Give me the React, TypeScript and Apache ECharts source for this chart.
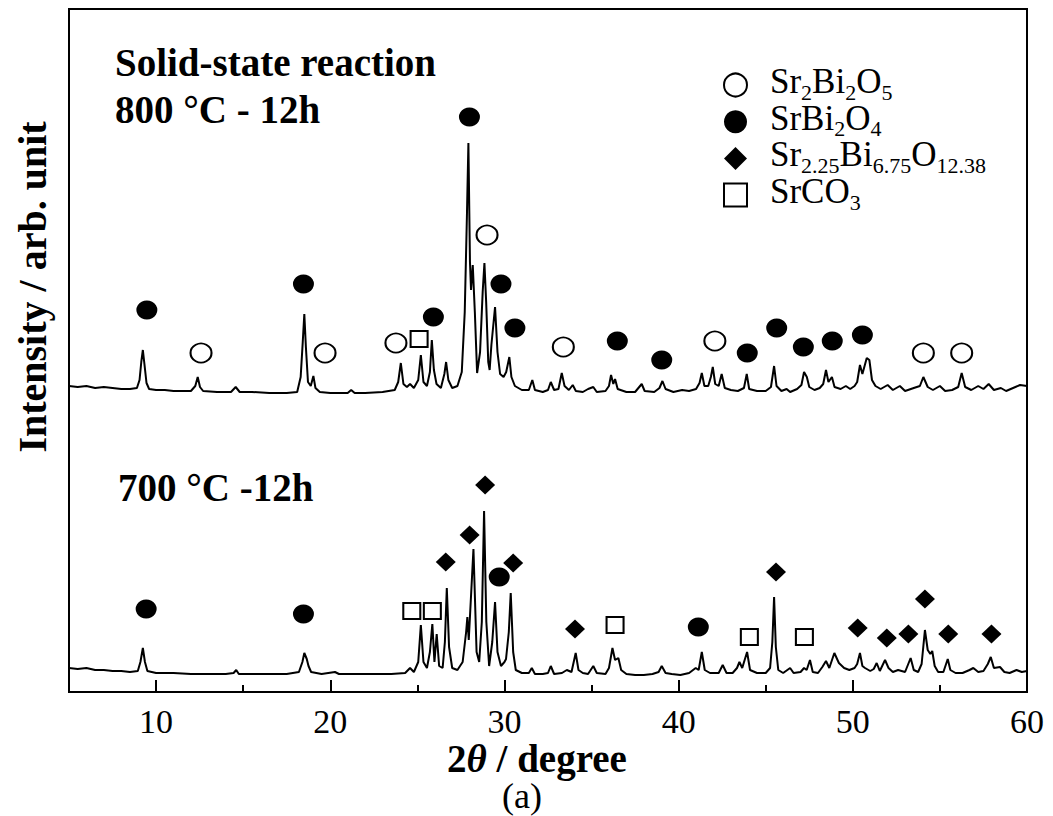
import React, { useEffect, useRef } from 'react';
import * as echarts from 'echarts';

const FONT = "'Liberation Serif', 'Times New Roman', serif";

const xMajorTicks = [10, 20, 30, 40, 50];
const xMinorTicks = [15, 25, 35, 45, 55];
const xTickLabels = [10, 20, 30, 40, 50, 60];

// 800 °C - 12h pattern: [2θ, intensity (arb.)]
const pattern800: number[][] = [
  [5.0, 306], [5.5, 305], [6.0, 306], [6.5, 304], [7.0, 305], [7.5, 304], [8.0, 303], [8.5, 303], [8.9, 304],
  [9.05, 312], [9.15, 330], [9.24, 342], [9.33, 328], [9.45, 309], [9.6, 303], [10.0, 302], [10.5, 302],
  [11.0, 301], [11.5, 301], [12.0, 301], [12.25, 306], [12.39, 315], [12.52, 305], [12.7, 301], [13.5, 300],
  [14.3, 300], [14.57, 305], [14.8, 300], [15.5, 300], [16.5, 299], [17.5, 299], [18.1, 300], [18.3, 315],
  [18.42, 350], [18.51, 378], [18.6, 345], [18.72, 310], [18.88, 306], [19.03, 316], [19.15, 304], [19.4, 300],
  [20.0, 299], [21.0, 299], [21.2, 302], [21.4, 299], [22.0, 299], [23.0, 300], [23.7, 302], [23.9, 310],
  [24.05, 329], [24.2, 308], [24.4, 305], [24.58, 308], [24.8, 304], [25.05, 312], [25.2, 337], [25.35, 310],
  [25.55, 306], [25.72, 320], [25.83, 352], [25.95, 322], [26.1, 308], [26.35, 304], [26.55, 318], [26.65, 330],
  [26.78, 312], [27.0, 304], [27.3, 306], [27.55, 320], [27.72, 380], [27.85, 480], [27.93, 549], [28.02, 430],
  [28.08, 402], [28.18, 427], [28.3, 380], [28.43, 319], [28.6, 340], [28.75, 400], [28.85, 429], [28.95, 390],
  [29.07, 330], [29.15, 322], [29.25, 347], [29.46, 385], [29.6, 340], [29.75, 318], [29.95, 315], [30.1, 320],
  [30.28, 335], [30.4, 315], [30.6, 306], [31.0, 302], [31.4, 302], [31.6, 312], [31.75, 302], [32.2, 300],
  [32.5, 302], [32.66, 310], [32.85, 302], [33.1, 303], [33.29, 319], [33.45, 306], [33.7, 302], [33.92, 307],
  [34.1, 301], [34.5, 300], [34.8, 303], [35.1, 305], [35.3, 300], [35.8, 301], [36.0, 306], [36.12, 317],
  [36.25, 308], [36.35, 313], [36.5, 303], [37.0, 300], [37.5, 300], [37.88, 308], [38.05, 301], [38.6, 300],
  [38.9, 304], [39.07, 311], [39.25, 303], [39.7, 300], [40.2, 302], [40.6, 301], [41.0, 303], [41.2, 309],
  [41.33, 319], [41.48, 306], [41.7, 306], [41.85, 315], [41.96, 325], [42.1, 308], [42.3, 306], [42.47, 318],
  [42.65, 304], [43.0, 302], [43.4, 301], [43.75, 304], [43.91, 318], [44.05, 303], [44.5, 301], [45.0, 301],
  [45.3, 305], [45.48, 326], [45.62, 306], [45.9, 301], [46.2, 303], [46.4, 300], [46.8, 303], [47.05, 307],
  [47.2, 320], [47.36, 315], [47.5, 305], [47.8, 302], [48.1, 304], [48.3, 308], [48.46, 322], [48.6, 310],
  [48.8, 315], [48.95, 305], [49.3, 303], [49.6, 306], [49.85, 303], [50.1, 306], [50.25, 310], [50.41, 327],
  [50.55, 318], [50.8, 334], [50.95, 332], [51.1, 312], [51.3, 306], [51.6, 303], [52.0, 307], [52.3, 302],
  [52.7, 306], [53.0, 301], [53.5, 304], [53.85, 306], [54.05, 315], [54.3, 305], [54.6, 302], [55.0, 306],
  [55.3, 301], [55.7, 302], [56.05, 305], [56.25, 319], [56.45, 305], [56.8, 302], [57.2, 306], [57.5, 303],
  [57.8, 308], [58.1, 302], [58.5, 304], [58.8, 301], [59.2, 304], [59.6, 307], [60.0, 306],
];

// 700 °C - 12h pattern
const pattern700: number[][] = [
  [5.0, 24], [5.5, 23], [6.0, 24], [6.5, 22], [7.0, 22], [7.5, 21], [8.0, 21], [8.5, 20], [8.95, 21],
  [9.1, 30], [9.24, 44], [9.36, 30], [9.5, 21], [10.0, 19], [11.0, 19], [12.0, 18], [13.0, 18], [14.0, 18],
  [14.45, 19], [14.6, 22], [14.75, 18], [15.5, 18], [16.5, 18], [17.5, 18], [18.2, 20], [18.4, 30], [18.51, 39],
  [18.65, 33], [18.75, 26], [18.9, 20], [19.5, 18], [20.27, 20], [20.5, 18], [21.5, 18], [22.5, 18], [23.5, 18],
  [24.3, 19], [24.58, 24], [24.8, 20], [25.05, 30], [25.2, 67], [25.35, 30], [25.55, 24], [25.72, 40],
  [25.86, 68], [25.98, 30], [26.11, 58], [26.25, 26], [26.45, 24], [26.58, 50], [26.69, 104], [26.82, 45],
  [27.0, 24], [27.3, 22], [27.6, 30], [27.8, 60], [27.87, 75], [27.95, 52], [28.22, 143], [28.4, 40],
  [28.55, 30], [28.7, 70], [28.83, 181], [28.96, 70], [29.12, 26], [29.3, 50], [29.46, 90], [29.6, 40],
  [29.8, 26], [30.0, 30], [30.09, 33], [30.25, 60], [30.36, 99], [30.5, 40], [30.65, 22], [31.0, 19],
  [31.4, 19], [31.57, 24], [31.75, 18], [32.2, 18], [32.5, 19], [32.66, 26], [32.85, 18], [33.3, 19],
  [33.58, 22], [33.85, 20], [34.09, 39], [34.25, 22], [34.5, 19], [34.8, 18], [35.1, 26], [35.3, 19],
  [35.8, 18], [36.0, 24], [36.2, 44], [36.35, 32], [36.54, 34], [36.7, 22], [37.0, 18], [37.5, 17], [38.0, 17],
  [38.5, 18], [38.85, 20], [39.03, 26], [39.25, 19], [39.6, 18], [40.1, 17], [40.6, 19], [40.98, 24],
  [41.15, 22], [41.33, 40], [41.5, 22], [41.8, 19], [42.3, 19], [42.53, 27], [42.75, 19], [43.1, 19],
  [43.35, 24], [43.49, 30], [43.65, 24], [43.93, 40], [44.1, 22], [44.5, 19], [45.0, 19], [45.25, 24],
  [45.38, 50], [45.48, 95], [45.58, 45], [45.72, 22], [46.0, 19], [46.4, 24], [46.6, 19], [47.0, 20],
  [47.2, 24], [47.35, 22], [47.54, 32], [47.7, 20], [48.0, 19], [48.25, 25], [48.46, 31], [48.65, 24],
  [48.94, 39], [49.2, 29], [49.5, 24], [49.8, 22], [50.1, 24], [50.25, 28], [50.41, 39], [50.55, 26],
  [50.7, 24], [51.0, 21], [51.2, 23], [51.37, 29], [51.55, 21], [51.85, 32], [52.05, 24], [52.3, 20],
  [52.6, 22], [52.8, 21], [53.0, 20], [53.32, 34], [53.5, 22], [53.75, 20], [53.95, 28], [54.14, 62],
  [54.3, 42], [54.45, 38], [54.56, 41], [54.7, 26], [54.9, 20], [55.2, 20], [55.45, 33], [55.6, 22],
  [55.9, 19], [56.3, 19], [56.7, 22], [56.92, 24], [57.2, 20], [57.5, 21], [57.75, 28], [57.92, 35],
  [58.1, 24], [58.45, 25], [58.7, 20], [59.0, 19], [59.4, 22], [59.7, 20], [60.0, 21],
];

// phase markers: [2θ, height]
const markSr2Bi2O5: number[][] = [
  [12.58, 339], [19.7, 339], [23.77, 349], [29.0, 457], [33.38, 345], [42.08, 351], [54.05, 339], [56.25, 339],
];
const markSrBi2O4: number[][] = [
  [9.47, 382], [18.46, 408], [25.92, 375], [27.99, 575], [29.8, 408], [30.6, 364], [36.48, 351], [39.03, 332],
  [43.94, 339], [45.63, 364], [47.16, 345], [48.82, 351], [50.55, 357],
  [9.43, 83], [18.46, 78], [29.7, 115], [41.13, 65],
];
const markSr225: number[][] = [
  [26.63, 130], [28.0, 157], [28.89, 207], [30.5, 129], [34.05, 63], [45.59, 120], [50.28, 64], [51.95, 54],
  [53.19, 58], [54.14, 93], [55.48, 58], [57.96, 58],
];
const markSrCO3: number[][] = [
  [25.1, 353], [24.68, 81], [25.86, 81], [36.35, 67], [44.06, 55], [47.22, 55],
];

const phaseNames = ['Sr2Bi2O5', 'SrBi2O4', 'Sr2.25Bi6.75O12.38', 'SrCO3'];
const phaseLabels: Record<string, string> = {
  'Sr2Bi2O5': '{m|Sr}{s|2}{m|Bi}{s|2}{m|O}{s|5}',
  'SrBi2O4': '{m|SrBi}{s|2}{m|O}{s|4}',
  'Sr2.25Bi6.75O12.38': '{m|Sr}{s|2.25}{m|Bi}{s|6.75}{m|O}{s|12.38}',
  'SrCO3': '{m|SrCO}{s|3}',
};

const openStyle = { color: '#ffffff', borderColor: '#000000', borderWidth: 2, opacity: 1 };
const fillStyle = { color: '#000000', borderColor: '#000000', borderWidth: 0, opacity: 1 };

export default function App() {
  const ref = useRef<HTMLDivElement>(null);
  useEffect(() => {
    if (!ref.current) return;
    const chart = echarts.init(ref.current, undefined, { renderer: 'svg' });
    const option: any = {
      animation: false,
      backgroundColor: '#ffffff',
      grid: {
        left: 69, top: 9, width: 958, height: 683,
        show: true, borderColor: '#000', borderWidth: 2, backgroundColor: 'transparent',
      },
      xAxis: [
        {
          type: 'value', min: 5, max: 60, position: 'bottom',
          axisLine: { show: true, onZero: false, lineStyle: { color: '#000', width: 2 } },
          axisTick: { show: true, inside: true, length: 12, lineStyle: { color: '#000', width: 2 }, customValues: xMajorTicks },
          axisLabel: {
            show: true, customValues: xTickLabels, margin: 12, showMaxLabel: true, showMinLabel: true,
            color: '#000', fontFamily: FONT, fontSize: 34,
          },
          splitLine: { show: false },
        },
        {
          type: 'value', min: 5, max: 60, position: 'bottom',
          axisLine: { show: false, onZero: false },
          axisTick: { show: true, inside: true, length: 7, lineStyle: { color: '#000', width: 2 }, customValues: xMinorTicks },
          axisLabel: { show: false },
          splitLine: { show: false },
        },
      ],
      yAxis: { type: 'value', min: 0, max: 683, show: false, splitLine: { show: false } },
      legend: {
        orient: 'vertical', left: 723, top: 64, padding: 0, itemGap: -2.3,
        itemWidth: 23, itemHeight: 23, selectedMode: false,
        data: [
          { name: phaseNames[0], icon: 'circle', itemStyle: openStyle },
          { name: phaseNames[1], icon: 'circle', itemStyle: fillStyle },
          { name: phaseNames[2], icon: 'diamond', itemStyle: fillStyle },
          { name: phaseNames[3], icon: 'rect', itemStyle: openStyle },
        ],
        formatter: (name: string) => phaseLabels[name] || name,
        textStyle: {
          color: '#000', fontFamily: FONT, fontSize: 35, lineHeight: 36, padding: [0, 0, 0, 18],
          rich: {
            m: { fontFamily: FONT, fontSize: 35, lineHeight: 36, verticalAlign: 'top', padding: [-3, 0, 0, 0], color: '#000' },
            s: { fontFamily: FONT, fontSize: 22, lineHeight: 36, verticalAlign: 'bottom', color: '#000' },
          },
        },
      },
      series: [
        {
          type: 'line', name: '800', data: pattern800, showSymbol: false, symbol: 'none',
          lineStyle: { color: '#000', width: 2 }, silent: true, z: 2,
        },
        {
          type: 'line', name: '700', data: pattern700, showSymbol: false, symbol: 'none',
          lineStyle: { color: '#000', width: 2 }, silent: true, z: 2,
        },
        {
          type: 'scatter', name: phaseNames[0], data: markSr2Bi2O5, symbol: 'circle', symbolSize: [21, 19],
          itemStyle: openStyle, z: 3,
        },
        {
          type: 'scatter', name: phaseNames[1], data: markSrBi2O4, symbol: 'circle', symbolSize: [21, 19],
          itemStyle: fillStyle, z: 3,
        },
        {
          type: 'scatter', name: phaseNames[2], data: markSr225, symbol: 'diamond', symbolSize: [20, 19],
          itemStyle: fillStyle, z: 3,
        },
        {
          type: 'scatter', name: phaseNames[3], data: markSrCO3, symbol: 'rect', symbolSize: [17, 16],
          itemStyle: openStyle, z: 3,
        },
      ],
      graphic: [
        {
          type: 'text', x: 115, y: 62,
          style: { text: 'Solid-state reaction', fontFamily: FONT, fontWeight: 'bold', fontSize: 39, fill: '#000', align: 'left', verticalAlign: 'middle' },
        },
        {
          type: 'text', x: 115, y: 109,
          style: { text: '800 °C - 12h', fontFamily: FONT, fontWeight: 'bold', fontSize: 39, fill: '#000', align: 'left', verticalAlign: 'middle' },
        },
        {
          type: 'text', x: 118, y: 487,
          style: { text: '700 °C -12h', fontFamily: FONT, fontWeight: 'bold', fontSize: 39, fill: '#000', align: 'left', verticalAlign: 'middle' },
        },
        {
          type: 'text', x: 32, y: 287, rotation: Math.PI / 2,
          style: { text: 'Intensity / arb. unit', fontFamily: FONT, fontWeight: 'bold', fontSize: 40, fill: '#000', align: 'center', verticalAlign: 'middle' },
        },
        {
          type: 'text', x: 537, y: 758,
          style: {
            text: '{b|2}{i|θ}{b| / degree}', align: 'center', verticalAlign: 'middle', fill: '#000',
            rich: {
              b: { fontFamily: FONT, fontWeight: 'bold', fontSize: 39, fill: '#000' },
              i: { fontFamily: FONT, fontWeight: 'bold', fontStyle: 'italic', fontSize: 39, fill: '#000' },
            },
          },
        },
        {
          type: 'text', x: 522, y: 796,
          style: { text: '(a)', fontFamily: FONT, fontSize: 36, fill: '#000', align: 'center', verticalAlign: 'middle' },
        },
      ],
    };
    chart.setOption(option);
    return () => chart.dispose();
  }, []);
  return (
    <div
      ref={ref}
      style={{ position: 'absolute', left: 0, top: 0, width: 1053, height: 816, background: '#fff' }}
    />
  );
}
